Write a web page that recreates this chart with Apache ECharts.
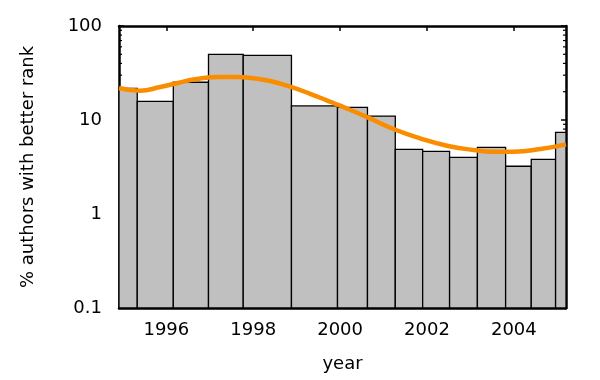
<!DOCTYPE html>
<html>
<head>
<meta charset="utf-8">
<script src="https://cdn.jsdelivr.net/npm/echarts@6/dist/echarts.min.js"></script>
<style>
html,body{margin:0;padding:0;background:#fff;}
#chart{width:600px;height:380px;}
</style>
</head>
<body>
<div id="chart"></div>
<script>
// Bin edges (year) and bar heights (% authors with better rank)
var binStart = [1994.91, 1995.33, 1996.16, 1996.97, 1997.77, 1998.88, 1999.94, 2000.63, 2001.27, 2001.90, 2002.52, 2003.16, 2003.81, 2004.40, 2004.96];
var binEnd   = [1995.33, 1996.16, 1996.97, 1997.77, 1998.88, 1999.94, 2000.63, 2001.27, 2001.90, 2002.52, 2003.16, 2003.81, 2004.40, 2004.96, 2005.20];
var barValues = [21.7, 15.8, 25.2, 50.0, 48.8, 14.1, 13.6, 11.0, 4.87, 4.64, 4.01, 5.12, 3.22, 3.82, 7.40];

// Smoothed trend line
var trendYears  = [1994.91, 1995.39, 1995.86, 1996.24, 1996.70, 1997.24, 1997.62, 1998.00, 1998.39, 1998.85, 1999.31, 1999.69, 2000.00, 2000.61, 2001.23, 2001.84, 2002.46, 2003.07, 2003.53, 2003.99, 2004.61, 2005.20];
var trendValues = [21.9, 20.5, 22.4, 24.6, 27.3, 28.7, 28.7, 27.8, 26.0, 22.6, 19.0, 16.2, 14.2, 10.8, 8.02, 6.38, 5.33, 4.80, 4.60, 4.60, 4.91, 5.51];

var xTicks = [1996, 1998, 2000, 2002, 2004];
var yMin = 0.1, yMax = 100;
var xMin = 1994.91, xMax = 2005.2;

var minorTickValues = [];
[0.1, 1, 10].forEach(function (d) { for (var k = 2; k <= 9; k++) minorTickValues.push(+(d * k).toPrecision(3)); });

var barData = barValues.map(function (v, i) { return [binStart[i], binEnd[i], v]; });
var lineData = trendYears.map(function (x, i) { return [x, trendValues[i]]; });

var FONT = 'DejaVu Sans';
var FS = 18;
var chart = echarts.init(document.getElementById('chart'), null, { renderer: 'canvas' });

var axisTextStyle = { color: '#000', fontFamily: FONT, fontSize: FS };

chart.setOption({
  animation: false,
  backgroundColor: '#fff',
  grid: { left: 119, right: 34, top: 26, bottom: 72 },
  xAxis: [{
    type: 'value', min: xMin, max: xMax, position: 'bottom',
    name: 'year', nameLocation: 'middle', nameGap: 47,
    nameTextStyle: axisTextStyle,
    axisLine: { show: true, lineStyle: { color: '#000', width: 2.5 } },
    axisTick: { show: true, inside: true, length: 5, customValues: xTicks, lineStyle: { color: '#000', width: 1.5 } },
    axisLabel: { show: true, customValues: xTicks, margin: 13, color: '#000', fontFamily: FONT, fontSize: FS, formatter: function (v) { return String(Math.round(v)); } },
    splitLine: { show: false }
  }, {
    type: 'value', min: xMin, max: xMax, position: 'top',
    axisLine: { show: true, lineStyle: { color: '#000', width: 2.5 } },
    axisTick: { show: true, inside: true, length: 5, customValues: xTicks, lineStyle: { color: '#000', width: 1.5 } },
    axisLabel: { show: false },
    splitLine: { show: false }
  }],
  yAxis: [{
    type: 'log', logBase: 10, min: yMin, max: yMax, position: 'left',
    name: '% authors with better rank', nameLocation: 'middle', nameGap: 82, nameRotate: 90,
    nameTextStyle: axisTextStyle,
    axisLine: { show: true, lineStyle: { color: '#000', width: 2.5 } },
    axisTick: { show: true, inside: true, length: 5, lineStyle: { color: '#000', width: 1.5 } },
    axisLabel: { show: true, margin: 17, color: '#000', fontFamily: FONT, fontSize: FS, formatter: function (v) { return String(+v.toPrecision(3)); } },
    splitLine: { show: false }
  }, {
    type: 'log', logBase: 10, min: yMin, max: yMax, position: 'right',
    axisLine: { show: true, lineStyle: { color: '#000', width: 2.5 } },
    axisTick: { show: true, inside: true, length: 5, lineStyle: { color: '#000', width: 1.5 } },
    axisLabel: { show: false },
    splitLine: { show: false }
  }],
  series: [{
    type: 'custom', name: 'minorTicks', z: 1, silent: true,
    xAxisIndex: 0, yAxisIndex: 0,
    data: minorTickValues,
    clip: false,
    renderItem: function (params, api) {
      var cs = params.coordSys;
      var y = api.coord([xMin, api.value(0)])[1];
      var st = { stroke: '#000', lineWidth: 1.2 };
      return { type: 'group', children: [
        { type: 'line', shape: { x1: cs.x, y1: y, x2: cs.x + 3, y2: y }, style: st },
        { type: 'line', shape: { x1: cs.x + cs.width - 3, y1: y, x2: cs.x + cs.width, y2: y }, style: st }
      ] };
    }
  }, {
    type: 'custom', name: 'bars', z: 2, silent: true,
    xAxisIndex: 0, yAxisIndex: 0,
    data: barData,
    encode: { x: [0, 1], y: 2 },
    renderItem: function (params, api) {
      var p0 = api.coord([api.value(0), api.value(2)]);
      var p1 = api.coord([api.value(1), yMin]);
      var rect = echarts.graphic.clipRectByRect(
        { x: p0[0], y: p0[1], width: p1[0] - p0[0], height: p1[1] - p0[1] },
        { x: params.coordSys.x, y: params.coordSys.y, width: params.coordSys.width, height: params.coordSys.height }
      );
      return rect && { type: 'rect', shape: rect, style: { fill: '#c0c0c0', stroke: '#000', lineWidth: 1.3 } };
    }
  }, {
    type: 'line', name: 'trend', z: 3,
    xAxisIndex: 0, yAxisIndex: 0,
    data: lineData, smooth: true, showSymbol: false, symbol: 'none',
    lineStyle: { color: '#fa8c00', width: 4.5 }
  }]
});
</script>
</body>
</html>
